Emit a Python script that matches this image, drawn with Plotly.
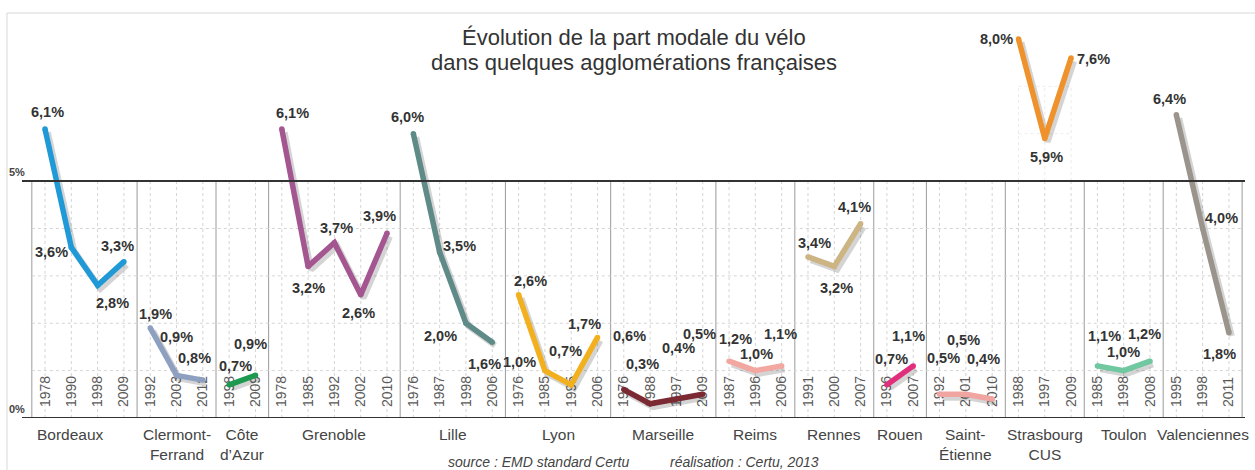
import plotly.graph_objects as go

# données : part modale du vélo (%) par agglomération et année d'enquête
cities = ['Bordeaux', 'Clermont-<br>Ferrand', 'Côte<br>d’Azur', 'Grenoble', 'Lille', 'Lyon',
          'Marseille', 'Reims', 'Rennes', 'Rouen', 'Saint-<br>Étienne', 'Strasbourg<br>CUS',
          'Toulon', 'Valenciennes']
years = [
    [1978, 1990, 1998, 2009],
    [1992, 2003, 2012],
    [1998, 2009],
    [1978, 1985, 1992, 2002, 2010],
    [1976, 1987, 1998, 2006],
    [1976, 1985, 1995, 2006],
    [1976, 1988, 1997, 2009],
    [1987, 1996, 2006],
    [1991, 2000, 2007],
    [1996, 2007],
    [1992, 2001, 2010],
    [1988, 1997, 2009],
    [1985, 1998, 2008],
    [1995, 1998, 2011],
]
shares = [
    [6.1, 3.6, 2.8, 3.3],
    [1.9, 0.9, 0.8],
    [0.7, 0.9],
    [6.1, 3.2, 3.7, 2.6, 3.9],
    [6.0, 3.5, 2.0, 1.6],
    [2.6, 1.0, 0.7, 1.7],
    [0.6, 0.3, 0.4, 0.5],
    [1.2, 1.0, 1.1],
    [3.4, 3.2, 4.1],
    [0.7, 1.1],
    [0.5, 0.5, 0.4],
    [8.0, 5.9, 7.6],
    [1.1, 1.0, 1.2],
    [6.4, 4.0, 1.8],
]

# style
colors = ['#1f9ad6', '#8ea0c0', '#1e9a50', '#a45690', '#5e8a88', '#f2b01e', '#7b2a33',
          '#f2a8a0', '#cdb483', '#e0307c', '#f0a5a0', '#f0922c', '#6fc8a0', '#9a948c']
# décalage des étiquettes (px) par rapport au point
label_shift = [
    [(2, 17), (-20, -5), (15, -18), (-6, 16)],
    [(5, 14), (0, 38), (-8, 22)],
    [(6, 19), (-5, 31)],
    [(11, 16), (0, -22), (2, 15), (-2, -18), (-8, 17)],
    [(-6, 17), (20, 6), (-25, -13), (-8, -22)],
    [(12, 14), (-25, 9), (-6, 34), (-13, 13)],
    [(6, 54), (-8, 40), (2, 51), (-3, 60)],
    [(6, 22), (1, 17), (-1, 32)],
    [(7, 14), (2, -22), (-6, 17)],
    [(5, 26), (-5, 30)],
    [(4, 36), (-2, 54), (-9, 40)],
    [(-22, 0), (2, -19), (22, -1)],
    [(7, 30), (0, 19), (-6, 27)],
    [(-7, 16), (19, 10), (-9, -21)],
]
name_shift = {'Bordeaux': -14}

sans = 'Liberation Sans, Arial, sans-serif'

fig = go.Figure()
shapes = []
tickvals, ticktext = [], []
pos = 0

for i, city in enumerate(cities):
    xs = list(range(pos, pos + len(years[i])))
    ys = shares[i]

    # ombre portée
    fig.add_trace(go.Scatter(x=[x + 0.11 for x in xs], y=[y - 0.07 for y in ys], mode='lines',
                             line=dict(color='rgba(40,40,40,0.2)', width=6),
                             hoverinfo='skip', showlegend=False, cliponaxis=False))
    fig.add_trace(go.Scatter(x=xs, y=ys, mode='lines+markers', line=dict(color=colors[i], width=5.5),
                             marker=dict(size=5.5, color=colors[i]),
                             name=city, showlegend=False, cliponaxis=False))

    for x, y, (dx, dy) in zip(xs, ys, label_shift[i]):
        fig.add_annotation(x=x, y=y, text=f'{y:.1f}%'.replace('.', ','), showarrow=False,
                           xshift=dx, yshift=dy,
                           font=dict(family=sans, size=14.5, color='#333333', weight='bold'))

    fig.add_annotation(x=(xs[0] + xs[-1]) / 2, y=0, text=city, showarrow=False,
                       yanchor='top', yshift=-6, xshift=name_shift.get(city, 0),
                       font=dict(family=sans, size=15.5, color='#444444'))

    # grille pointillée verticale
    for x in xs:
        shapes.append(dict(type='line', xref='x', yref='y', x0=x, x1=x, y0=0, y1=5,
                           line=dict(color='#d4d4d4', width=1, dash='dot'), layer='below'))
    if city.startswith('Strasbourg'):
        for x in xs:
            shapes.append(dict(type='line', xref='x', yref='y', x0=x, x1=x, y0=5, y1=7,
                               line=dict(color='#ebebeb', width=1, dash='dot'), layer='below'))
        for h in (6, 7):
            shapes.append(dict(type='line', xref='x', yref='y', x0=xs[0], x1=xs[-1], y0=h, y1=h,
                               line=dict(color='#ebebeb', width=1, dash='dot'), layer='below'))

    # séparateur de groupe
    shapes.append(dict(type='line', xref='x', yref='y', x0=pos - 0.5, x1=pos - 0.5, y0=0, y1=5,
                       line=dict(color='#9a9a9a', width=1), layer='below'))

    tickvals += xs
    ticktext += [str(y) for y in years[i]]
    pos += len(years[i])

shapes.append(dict(type='line', xref='x', yref='y', x0=pos - 0.5, x1=pos - 0.5, y0=0, y1=5,
                   line=dict(color='#9a9a9a', width=1), layer='below'))

for h in (1, 2, 3, 4):
    shapes.append(dict(type='line', xref='x', yref='y', x0=-0.5, x1=pos - 0.5, y0=h, y1=h,
                       line=dict(color='#d4d4d4', width=1, dash='dot'), layer='below'))

for h in (0, 5):
    shapes.append(dict(type='line', xref='paper', yref='y', x0=0, x1=1, y0=h, y1=h,
                       line=dict(color='#333333', width=2)))

# cadre
shapes.append(dict(type='rect', xref='paper', yref='paper', x0=-0.0123, x1=1.03, y0=-0.3, y1=1.0176,
                   line=dict(color='#d8d8d8', width=1)))

for h, txt in ((5, '5%'), (0, '0%')):
    fig.add_annotation(x=0, xref='paper', y=h, yref='y', text=txt, showarrow=False,
                       xanchor='right', yanchor='bottom', xshift=5, yshift=1,
                       font=dict(family=sans, size=11, color='#444444', weight='bold'))

fig.add_annotation(x=0.5, xref='paper', y=1, yref='paper', text='Évolution de la part modale du vélo',
                   showarrow=False, yanchor='middle', yshift=-17,
                   font=dict(family=sans, size=22, color='#333333'))
fig.add_annotation(x=0.5, xref='paper', y=1, yref='paper', text='dans quelques agglomérations françaises',
                   showarrow=False, yanchor='middle', yshift=-42,
                   font=dict(family=sans, size=22, color='#333333'))

fig.add_annotation(x=0.423, xref='paper', y=0, yref='y', text='<i>source : EMD standard Certu</i>',
                   showarrow=False, yanchor='middle', yshift=-44,
                   font=dict(family=sans, size=14, color='#444444'))
fig.add_annotation(x=0.591, xref='paper', y=0, yref='y', text='<i>réalisation : Certu, 2013</i>',
                   showarrow=False, yanchor='middle', yshift=-44,
                   font=dict(family=sans, size=14, color='#444444'))

fig.update_layout(
    width=1255, height=470,
    margin=dict(l=22, r=10, t=20, b=52),
    paper_bgcolor='white', plot_bgcolor='white',
    shapes=shapes,
    xaxis=dict(range=[-0.874, 45.61], tickvals=tickvals, ticktext=ticktext, tickangle=-90,
               ticklabelposition='inside', ticks='', showgrid=False, zeroline=False,
               showline=False, layer='below traces', ticklabelstandoff=3,
               tickfont=dict(family=sans, size=14, color='#5a5a5a')),
    yaxis=dict(range=[0, 8.4], showticklabels=False, showgrid=False, zeroline=False,
               showline=False, ticks=''),
)

fig.write_html('out.html', config={'displayModeBar': False},
               post_script="document.body.style.margin='0';")
